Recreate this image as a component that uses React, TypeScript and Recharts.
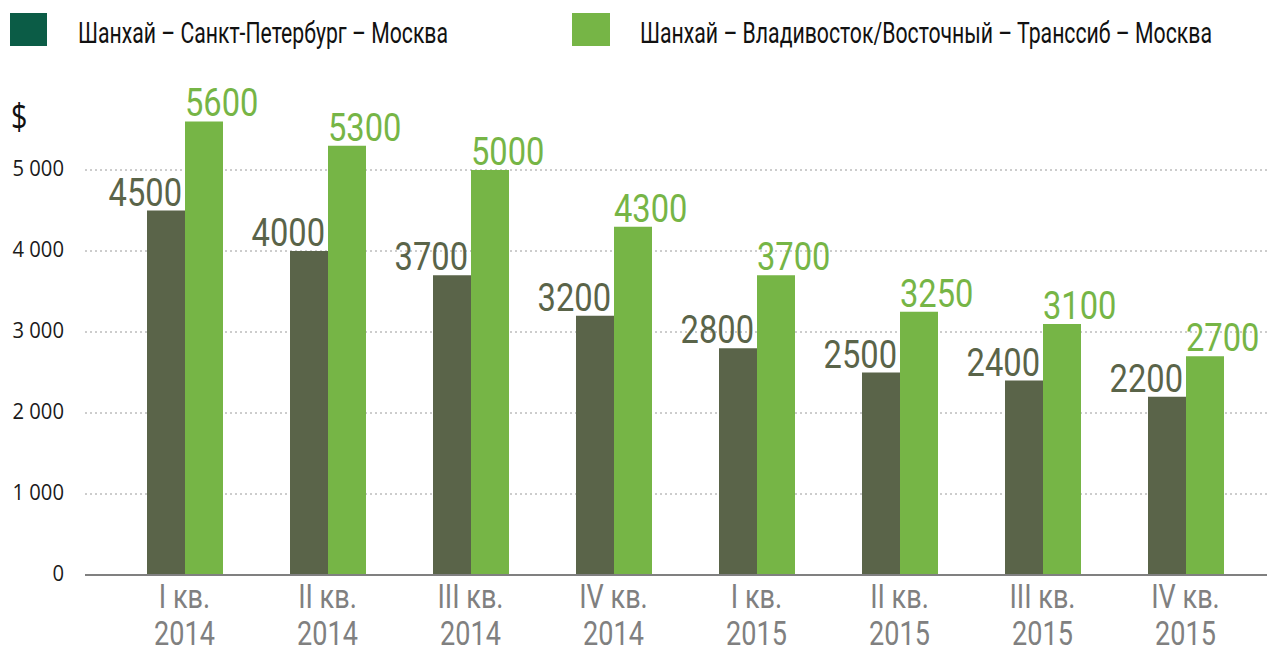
import React from 'react';
import { BarChart, Bar, XAxis, YAxis, CartesianGrid, LabelList } from 'recharts';

const quarters = ['I кв.', 'II кв.', 'III кв.', 'IV кв.', 'I кв.', 'II кв.', 'III кв.', 'IV кв.'];
const years = ['2014', '2014', '2014', '2014', '2015', '2015', '2015', '2015'];
const spbRoute = [4500, 4000, 3700, 3200, 2800, 2500, 2400, 2200];
const transsibRoute = [5600, 5300, 5000, 4300, 3700, 3250, 3100, 2700];
const yTicks = [0, 1000, 2000, 3000, 4000, 5000];

const seriesNames = [
  'Шанхай – Санкт-Петербург – Москва',
  'Шанхай – Владивосток/Восточный – Транссиб – Москва',
];

const data = quarters.map((q, i) => ({
  key: `${q} ${years[i]}`,
  quarter: q,
  year: years[i],
  spb: spbRoute[i],
  transsib: transsibRoute[i],
}));

// no condensed font installed, so Roboto gets squeezed horizontally
const condensed = 'Roboto, sans-serif';
const DARK = '#5a6449';
const GREEN = '#76b546';

const fmt = (v: number) => (v >= 1000 ? `${Math.floor(v / 1000)} ${String(v % 1000).padStart(3, '0')}` : String(v));

const YTick = (props: any) => {
  const { y, payload } = props;
  return (
    <text
      transform={`translate(64,${y + 6}) scale(0.92,1)`}
      textAnchor="end"
      fontFamily='"Open Sans", sans-serif'
      fontSize={22}
      fill="#1a1a1a"
    >
      {fmt(payload.value)}
    </text>
  );
};

const XTick = (props: any) => {
  const { x, y, index } = props;
  return (
    <g fontFamily={condensed} fontSize={33} fill="#808080" textAnchor="middle">
      <text transform={`translate(${x},${y + 25}) scale(0.82,1)`}>{quarters[index]}</text>
      <text transform={`translate(${x},${y + 62}) scale(0.82,1)`}>{years[index]}</text>
    </g>
  );
};

const darkLabel = (props: any) => {
  const { x, y, width, value } = props;
  return (
    <text
      transform={`translate(${x + width - 3},${y - 5}) scale(0.86,1)`}
      textAnchor="end"
      fontFamily={condensed}
      fontSize={38}
      fill={DARK}
    >
      {value}
    </text>
  );
};

const greenLabel = (props: any) => {
  const { x, y, value } = props;
  return (
    <text
      transform={`translate(${x},${y - 5}) scale(0.86,1)`}
      textAnchor="start"
      fontFamily={condensed}
      fontSize={38}
      fill={GREEN}
    >
      {value}
    </text>
  );
};

export default function App() {
  return (
    <div style={{ position: 'absolute', left: 0, top: 0, width: 1267, height: 648, background: '#fff' }}>
      <svg width={1267} height={140} style={{ position: 'absolute', left: 0, top: 0 }}>
        <rect x={10} y={13} width={37} height={33} fill="#0b5c46" />
        <text x={78} y={43} fontFamily={condensed} fontSize={29} fill="#111" textLength={370} lengthAdjust="spacingAndGlyphs">
          {seriesNames[0]}
        </text>
        <rect x={572} y={13} width={38} height={33} fill={GREEN} />
        <text x={640} y={43} fontFamily={condensed} fontSize={29} fill="#111" textLength={572} lengthAdjust="spacingAndGlyphs">
          {seriesNames[1]}
        </text>
        <text transform="translate(11,129) scale(0.8,1)" fontFamily='"Open Sans", sans-serif' fontSize={36} fill="#111">
          $
        </text>
      </svg>
      <BarChart
        width={1267}
        height={648}
        data={data}
        margin={{ top: 89, right: 0, left: 0, bottom: 0 }}
        barGap={0}
        barSize={38}
        style={{ position: 'absolute', left: 0, top: 0 }}
      >
        <CartesianGrid vertical={false} stroke="#9a9a9a" strokeDasharray="2 3" horizontalValues={[1000, 2000, 3000, 4000, 5000]} />
        <XAxis
          dataKey="key"
          height={73}
          padding={{ left: 28, right: 10 }}
          tickLine={false}
          axisLine={{ stroke: '#808080', strokeWidth: 2 }}
          tick={<XTick />}
          interval={0}
        />
        <YAxis
          width={85}
          domain={[0, 6000]}
          ticks={yTicks}
          tickLine={false}
          axisLine={false}
          tick={<YTick />}
        />
        <Bar dataKey="spb" name={seriesNames[0]} fill={DARK} isAnimationActive={false}>
          <LabelList dataKey="spb" content={darkLabel} />
        </Bar>
        <Bar dataKey="transsib" name={seriesNames[1]} fill={GREEN} isAnimationActive={false}>
          <LabelList dataKey="transsib" content={greenLabel} />
        </Bar>
      </BarChart>
    </div>
  );
}
